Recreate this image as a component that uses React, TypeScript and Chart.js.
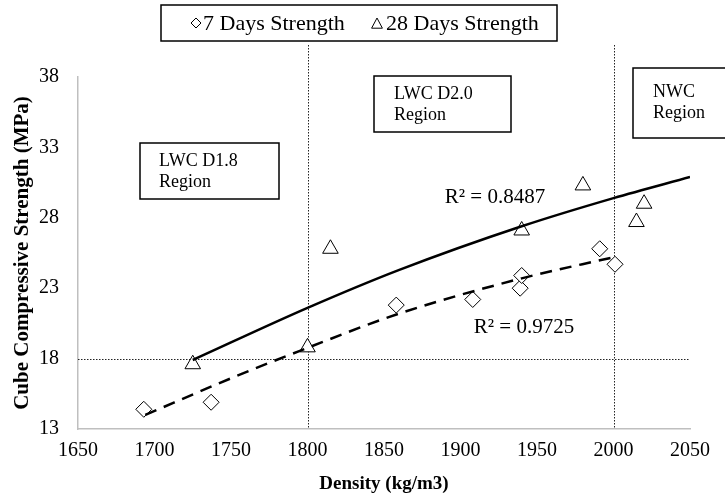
import React, { useEffect, useRef } from "react";
import { Chart, registerables } from "chart.js";

Chart.register(...registerables);

// ---- data ----
const xTickValues = [1650, 1700, 1750, 1800, 1850, 1900, 1950, 2000, 2050];
const yTickValues = [13, 18, 23, 28, 33, 38];

const seriesLabels = ["7 Days Strength", "28 Days Strength"];

const days7Density = [1693, 1737, 1858, 1908, 1939, 1940, 1991, 2001];
const days7Strength = [14.4, 14.9, 21.8, 22.2, 23.0, 23.9, 25.8, 24.7];

const days28Density = [1725, 1800, 1815, 1940, 1980, 2015, 2020];
const days28Strength = [17.6, 18.8, 25.8, 27.1, 30.3, 27.7, 29.0];

// trend lines
const trend7Density = [1694, 1750, 1795, 1860, 1940, 2000];
const trend7Strength = [14.0, 16.6, 18.55, 21.2, 23.7, 25.2];
const trend28Density = [1725, 1800, 1860, 1940, 2000, 2050];
const trend28Strength = [17.9, 21.6, 24.3, 27.4, 29.4, 30.9];

const r2Texts = ["R\u00B2 = 0.8487", "R\u00B2 = 0.9725"];
const regionTexts = [
  ["LWC D1.8", "Region"],
  ["LWC D2.0", "Region"],
  ["NWC", "Region"],
];
const refDensity = [1800, 2000];
const refStrength = [18];

const FONT = "'Liberation Serif', 'Times New Roman', serif";

const toPts = (xs: number[], ys: number[]) => xs.map((x, i) => ({ x, y: ys[i] }));

function drawDiamond(ctx: CanvasRenderingContext2D, x: number, y: number, r: number) {
  ctx.beginPath();
  ctx.moveTo(x - r, y);
  ctx.lineTo(x, y - r);
  ctx.lineTo(x + r, y);
  ctx.lineTo(x, y + r);
  ctx.closePath();
  ctx.fillStyle = "#fff";
  ctx.fill();
  ctx.stroke();
}
function drawTriangle(ctx: CanvasRenderingContext2D, x: number, y: number, r: number) {
  ctx.beginPath();
  ctx.moveTo(x, y - r);
  ctx.lineTo(x + r * 0.9, y + r * 0.7);
  ctx.lineTo(x - r * 0.9, y + r * 0.7);
  ctx.closePath();
  ctx.fillStyle = "#fff";
  ctx.fill();
  ctx.stroke();
}

const overlayPlugin = {
  id: "overlay",
  beforeDatasetsDraw(chart: any) {
    const { ctx, chartArea, scales } = chart;
    const xs = scales.x;
    const ys = scales.y;
    ctx.save();
    ctx.strokeStyle = "#222";
    ctx.lineWidth = 1;
    ctx.setLineDash([1.5, 1.5]);
    refDensity.forEach((d) => {
      const px = Math.round(xs.getPixelForValue(d)) + 0.5;
      ctx.beginPath();
      ctx.moveTo(px, 45);
      ctx.lineTo(px, chartArea.bottom);
      ctx.stroke();
    });
    refStrength.forEach((s) => {
      const py = Math.round(ys.getPixelForValue(s)) + 0.5;
      ctx.beginPath();
      ctx.moveTo(chartArea.left, py);
      ctx.lineTo(chartArea.right, py);
      ctx.stroke();
    });
    ctx.restore();
  },
  afterDraw(chart: any) {
    const { ctx } = chart;
    ctx.save();
    // legend
    ctx.lineWidth = 1.5;
    ctx.strokeStyle = "#000";
    ctx.strokeRect(161, 5, 396, 36);
    ctx.lineWidth = 1;
    drawDiamond(ctx, 196, 23, 5);
    drawTriangle(ctx, 377, 24, 6);
    ctx.fillStyle = "#000";
    ctx.font = `22px ${FONT}`;
    ctx.textBaseline = "middle";
    ctx.textAlign = "left";
    ctx.fillText(seriesLabels[0], 203, 24);
    ctx.fillText(seriesLabels[1], 386, 24);

    // region boxes
    const boxes = [
      { x: 140, y: 143, w: 139, h: 56, tx: 159, ty: 161 },
      { x: 374, y: 76, w: 137, h: 56, tx: 394, ty: 94 },
      { x: 633, y: 68, w: 110, h: 70, tx: 653, ty: 92 },
    ];
    boxes.forEach((b, i) => {
      ctx.fillStyle = "#fff";
      ctx.fillRect(b.x, b.y, b.w, b.h);
      ctx.lineWidth = 1.5;
      ctx.strokeStyle = "#000";
      ctx.strokeRect(b.x, b.y, b.w, b.h);
      ctx.fillStyle = "#000";
      ctx.font = `18px ${FONT}`;
      regionTexts[i].forEach((t, j) => ctx.fillText(t, b.tx, b.ty + j * 21));
    });

    // R² labels
    ctx.font = `21px ${FONT}`;
    ctx.textAlign = "center";
    ctx.fillStyle = "#000";
    ctx.fillText(r2Texts[0], 495, 197);
    ctx.fillText(r2Texts[1], 524, 327);
    ctx.restore();
  },
};

export default function App() {
  const ref = useRef<HTMLCanvasElement>(null);
  useEffect(() => {
    document.body.style.margin = "0";
    const canvas = ref.current!;
    const chart = new Chart(canvas, {
      type: "scatter",
      data: {
        datasets: [
          {
            label: "trend28",
            data: toPts(trend28Density, trend28Strength),
            showLine: true,
            borderColor: "#000",
            borderWidth: 2.5,
            pointRadius: 0,
            cubicInterpolationMode: "monotone",
            fill: false,
          },
          {
            label: "trend7",
            data: toPts(trend7Density, trend7Strength),
            showLine: true,
            borderColor: "#000",
            borderWidth: 2.5,
            borderDash: [12, 8],
            pointRadius: 0,
            cubicInterpolationMode: "monotone",
            fill: false,
          },
          {
            label: seriesLabels[0],
            data: toPts(days7Density, days7Strength),
            pointStyle: "rectRot",
            pointRadius: 8,
            pointBackgroundColor: "#fff",
            pointBorderColor: "#000",
            pointBorderWidth: 1,
          },
          {
            label: seriesLabels[1],
            data: toPts(days28Density, days28Strength),
            pointStyle: "triangle",
            pointRadius: 9,
            pointBackgroundColor: "#fff",
            pointBorderColor: "#000",
            pointBorderWidth: 1,
          },
        ],
      },
      options: {
        responsive: false,
        animation: false,
        events: [],
        layout: { padding: { top: 77, right: 35, left: 0, bottom: 0 } },
        plugins: { legend: { display: false }, tooltip: { enabled: false } },
        scales: {
          x: {
            type: "linear",
            min: 1650,
            max: 2050,
            afterBuildTicks: (s: any) => {
              s.ticks = xTickValues.map((v) => ({ value: v }));
            },
            afterFit: (s: any) => {
              s.height = 70;
            },
            ticks: {
              color: "#000",
              font: { family: FONT, size: 20 },
              padding: 10,
              maxRotation: 0,
              callback: (v: any) => String(v),
            },
            grid: { display: false, drawTicks: false },
            border: { display: true, color: "#bfbfbf", width: 1.5 },
            title: {
              display: true,
              text: "Density (kg/m3)",
              color: "#000",
              font: { family: FONT, size: 19, weight: "bold" },
              padding: { top: 0, bottom: 4 },
            },
          },
          y: {
            type: "linear",
            min: 13,
            max: 38,
            afterBuildTicks: (s: any) => {
              s.ticks = yTickValues.map((v) => ({ value: v }));
            },
            afterFit: (s: any) => {
              s.width = 78;
            },
            ticks: {
              color: "#000",
              font: { family: FONT, size: 20 },
              padding: 19,
              callback: (v: any) => String(v),
            },
            grid: { display: false, drawTicks: false },
            border: { display: true, color: "#bfbfbf", width: 1.5 },
            title: {
              display: true,
              text: "Cube Compressive Strength (MPa)",
              color: "#000",
              font: { family: FONT, size: 21, weight: "bold" },
              padding: { top: 10, bottom: 0 },
            },
          },
        },
      },
      plugins: [overlayPlugin],
    } as any);
    return () => chart.destroy();
  }, []);
  return (
    <div style={{ width: 725, height: 499 }}>
      <canvas ref={ref} width={725} height={499} style={{ display: "block" }} />
    </div>
  );
}
